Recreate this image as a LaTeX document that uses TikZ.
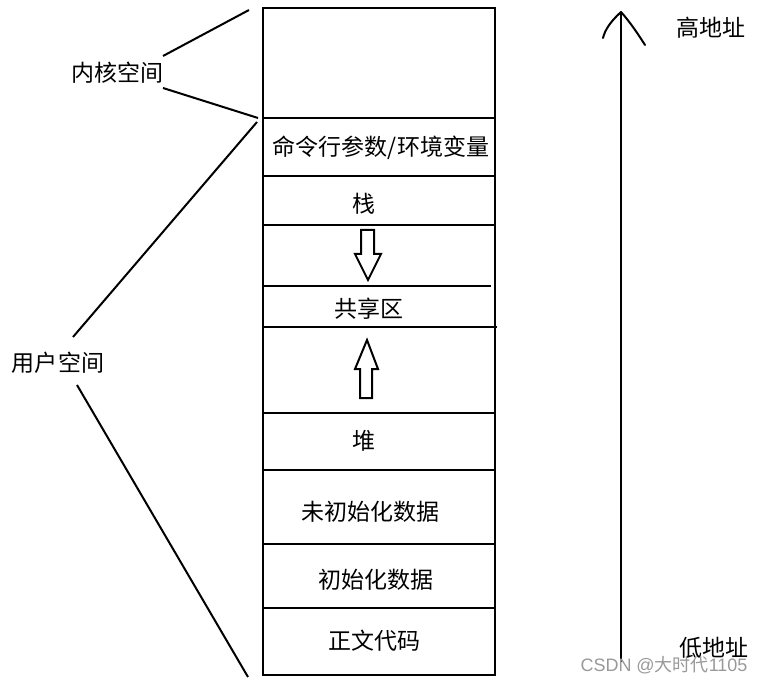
\documentclass[tikz,border=0pt]{standalone}
\usepackage{fontspec}
\setmainfont{Noto Sans CJK SC}
\newfontfamily\wmfont{Liberation Sans}
\begin{document}
\begin{tikzpicture}[x=1pt,y=-1pt,
  lbl/.style={font=\fontsize{23}{27}\selectfont, inner sep=0pt},
  edge/.style={line width=2pt, black},
  thin/.style={line width=2pt, black},
  hollow/.style={line width=2pt, black, fill=white, line join=miter}]
\useasboundingbox (0,0) rectangle (765,684);
% main box
\draw[edge] (263,8) rectangle (495,675);
\foreach \yy in {118,176,225,413,470,544,608}
  \draw[edge] (263,\yy) -- (495,\yy);
\draw[edge] (263,286) -- (491,286);
\draw[edge] (263,327) -- (497,327);
% labels in the box
\node[lbl] (cmd) at (381,148) {命令行参数/环境变量};
\node[lbl] (stk) at (364,204) {栈};
\node[lbl] (shr) at (369,309) {共享区};
\node[lbl] (heap) at (364,441) {堆};
\node[lbl] (bss) at (370,512) {未初始化数据};
\node[lbl] (data) at (376,580) {初始化数据};
\node[lbl] (text) at (374,641) {正文代码};
% hollow arrows
\draw[hollow] (361,230) -- (374,230) -- (374,254) -- (381,254) -- (368,280) -- (355,254) -- (361,254) -- cycle;
\draw[hollow] (360,398) -- (372,398) -- (372,369) -- (378,369) -- (367,340) -- (355,369) -- (360,369) -- cycle;
% side labels
\node[lbl] (kern) at (117,73) {内核空间};
\node[lbl] (user) at (58,363) {用户空间};
\coordinate (ka) at (249,10);
\coordinate (kb) at (258,118);
\coordinate (ua) at (257,122);
\coordinate (ub) at (248,677);
\draw[thin] (163,56) -- (ka);
\draw[thin] (163,88) -- (kb);
\draw[thin] (73,337) -- (ua);
\draw[thin] (77,385) -- (ub);
% address arrow
\node[lbl] (hi) at (711,28) {高地址};
\node[lbl] (lo) at (714,648) {低地址};
\coordinate (top) at (621,12);
\coordinate (bot) at (621,662);
\draw[thin] (bot) -- (top);
\draw[thin, line cap=round, line join=round] (603,38) .. controls (605,30) and (610,22) .. (top) .. controls (630,22) and (638,34) .. (645,45);
% watermark
\node[font=\wmfont\fontsize{18}{21}\selectfont, text=black!40, inner sep=0pt] (wm) at (664,665) {CSDN @{\fontspec{Noto Sans CJK SC}大时代}1105};
\end{tikzpicture}
\end{document}
